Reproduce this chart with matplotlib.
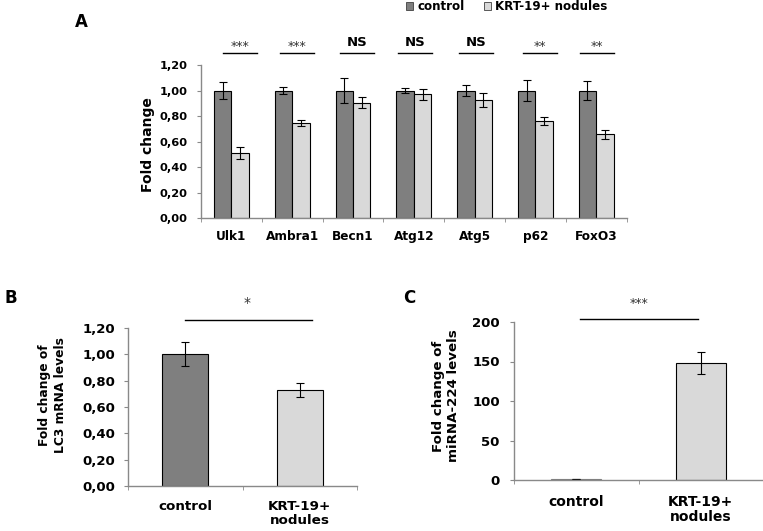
import numpy as np
import matplotlib
matplotlib.use("Agg")
import matplotlib.pyplot as plt
from matplotlib.patches import Patch
from matplotlib.ticker import FuncFormatter

plt.rcParams['font.family'] = ['DejaVu Sans']
plt.rcParams['font.weight'] = 'bold'

# panel A data
genes = ['Ulk1', 'Ambra1', 'Becn1', 'Atg12', 'Atg5', 'p62', 'FoxO3']
ctrl_a = [1.00, 1.00, 1.00, 1.00, 1.00, 1.00, 1.00]
ctrl_a_err = [0.07, 0.03, 0.10, 0.02, 0.04, 0.08, 0.075]
krt_a = [0.51, 0.745, 0.905, 0.97, 0.925, 0.76, 0.655]
krt_a_err = [0.05, 0.02, 0.045, 0.045, 0.055, 0.03, 0.035]
sig_a = ['***', '***', 'NS', 'NS', 'NS', '**', '**']
sig_a_shift = [0.14, 0.08, 0.06, 0.02, 0.03, 0.08, 0.01]

# panel B data (LC3)
groups = ['control', 'KRT-19+\nnodules']
lc3 = [1.00, 0.73]
lc3_err = [0.09, 0.055]

# panel C data (miRNA-224)
mir = [1.0, 148]
mir_err = [0.0, 14]

c_dark = '#7f7f7f'
c_light = '#d9d9d9'
spine_c = '#898989'
W, H = 763, 531

fig = plt.figure(figsize=(7.63, 5.31), dpi=100)


def style_ax(ax, n, xpad, ypad):
    for s in ['top', 'right']:
        ax.spines[s].set_visible(False)
    for s in ['left', 'bottom']:
        ax.spines[s].set_color(spine_c)
        ax.spines[s].set_linewidth(1)
    ax.set_xlim(-0.5, n - 0.5)
    ax.set_xticks(range(n))
    ax.set_xticks(np.arange(-0.5, n, 1.0), minor=True)
    ax.tick_params(axis='x', which='major', length=0, pad=xpad)
    ax.tick_params(axis='x', which='minor', length=3.2, color=spine_c)
    ax.tick_params(axis='y', length=3.2, color=spine_c, pad=ypad)


comma2 = FuncFormatter(lambda v, p: f"{v:.2f}".replace('.', ','))
ekw = dict(elinewidth=0.8, capsize=2.6, capthick=0.8)

# ---- A ----
axA = fig.add_axes([201 / W, 1 - 218 / H, 425.6 / W, 153 / H])
x = np.arange(len(genes))
w = 0.287
axA.bar(x - w / 2, ctrl_a, w, color=c_dark, edgecolor='black', linewidth=0.8,
        yerr=ctrl_a_err, error_kw=ekw)
axA.bar(x + w / 2, krt_a, w, color=c_light, edgecolor='black', linewidth=0.8,
        yerr=krt_a_err, error_kw=ekw)
style_ax(axA, len(genes), 8.5, 6.5)
axA.set_ylim(0, 1.2)
axA.set_yticks(np.arange(0, 1.21, 0.2))
axA.yaxis.set_major_formatter(comma2)
axA.set_xticklabels(genes, fontsize=8.7, fontweight='bold')
axA.tick_params(axis='y', labelsize=8.2)
fig.text(148 / W, 1 - 145 / H, 'Fold change', rotation=90, ha='center', va='center',
         fontsize=10, fontweight='bold')
for i, s in enumerate(sig_a):
    c = i + sig_a_shift[i]
    axA.plot([c - 0.28, c + 0.28], [1.294, 1.294], color='black', lw=1, clip_on=False)
    if s == 'NS':
        axA.text(c, 1.373, s, ha='center', va='center', fontsize=9.5, fontweight='bold')
    else:
        axA.text(c, 1.345, s, ha='center', va='center', fontsize=9, fontweight='normal',
                 color='#333333')

fig.text(81 / W, 1 - 22 / H, 'A', fontsize=12, fontweight='bold', ha='center', va='center')
handles = [Patch(facecolor=c_dark, edgecolor='#404040', linewidth=0.6, label='control'),
           Patch(facecolor=c_light, edgecolor='#404040', linewidth=0.6, label='KRT-19+ nodules')]
fig.legend(handles=handles, loc='center left', bbox_to_anchor=(406 / W, 1 - 7 / H),
           ncol=2, frameon=False, fontsize=8.6, handlelength=0.6, handleheight=0.6,
           handletextpad=0.35, columnspacing=1.6, borderaxespad=0, borderpad=0)

# ---- B ----
axB = fig.add_axes([128 / W, 1 - 486 / H, 229 / W, 158 / H])
axB.bar([0, 1], lc3, 0.40, color=[c_dark, c_light], edgecolor='black', linewidth=0.8,
        yerr=lc3_err, error_kw=ekw)
style_ax(axB, 2, 10, 6)
axB.set_ylim(0, 1.2)
axB.set_yticks(np.arange(0, 1.21, 0.2))
axB.yaxis.set_major_formatter(comma2)
axB.set_xticklabels(groups, fontsize=9.7, fontweight='bold', linespacing=1.1)
axB.tick_params(axis='y', labelsize=9.5)
fig.text(52.5 / W, 1 - 395 / H, 'Fold change of\nLC3 mRNA levels', rotation=90,
         ha='center', va='center', fontsize=8.8, fontweight='bold', linespacing=1.35)
axB.plot([0.0, 1.107], [1.261, 1.261], color='black', lw=1, clip_on=False)
axB.text(0.54, 1.39, '*', ha='center', va='center', fontsize=10, fontweight='normal',
         color='#333333')
fig.text(5 / W, 1 - 298 / H, 'B', fontsize=12, fontweight='bold', ha='left', va='center')

# ---- C ----
axC = fig.add_axes([514 / W, 1 - 480 / H, 249 / W, 158 / H])
axC.bar([0, 1], mir, 0.40, color=[c_dark, c_light], edgecolor=[c_dark, 'black'], linewidth=0.8,
        yerr=mir_err, error_kw=ekw)
style_ax(axC, 2, 10.5, 7)
axC.set_ylim(0, 200)
axC.set_yticks(np.arange(0, 201, 50))
axC.set_xticklabels(groups, fontsize=10, fontweight='bold', linespacing=1.1)
axC.tick_params(axis='y', labelsize=9.5)
fig.text(446 / W, 1 - 396 / H, 'Fold change of\nmiRNA-224 levels', rotation=90,
         ha='center', va='center', fontsize=9.6, fontweight='bold', linespacing=1.2)
axC.plot([0.03, 0.978], [203.8, 203.8], color='black', lw=1, clip_on=False)
axC.text(0.504, 224, '***', ha='center', va='center', fontsize=9, fontweight='normal',
         color='#333333')
fig.text(403 / W, 1 - 298 / H, 'C', fontsize=12, fontweight='bold', ha='left', va='center')

fig.savefig('out.png', dpi=100)
